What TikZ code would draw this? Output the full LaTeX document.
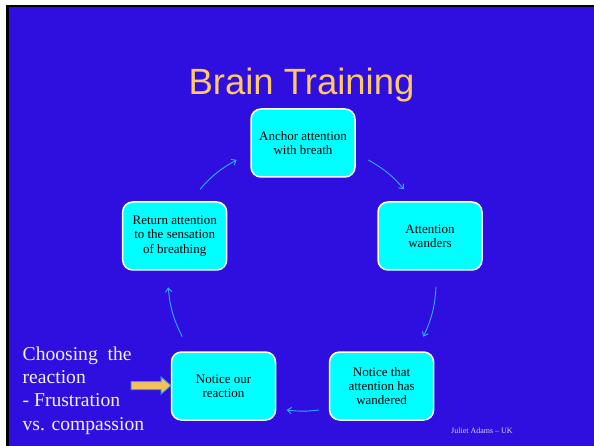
\documentclass[tikz,border=0pt]{standalone}
\usepackage{fontspec}
\setmainfont{Liberation Serif}
\newfontfamily\headfont{Liberation Sans}
\usetikzlibrary{arrows.meta}
\definecolor{slideblue}{HTML}{2E0FDF}
\definecolor{headgold}{HTML}{FFC864}
\definecolor{boxcyan}{HTML}{00FFFF}
\definecolor{cyclearrow}{HTML}{2FB0FF}
\definecolor{pointerfill}{HTML}{F6C15C}
\definecolor{pointerline}{HTML}{2AA6C8}
\definecolor{sidetext}{HTML}{F2F0FF}
\definecolor{footgray}{HTML}{D6D2F4}
\begin{document}
\begin{tikzpicture}[x=1pt,y=-1pt,
  stagebox/.style={draw=white, line width=1.5pt, fill=boxcyan, rounded corners=10pt,
    minimum width=104pt, minimum height=68pt, align=center, text=black,
    inner sep=2pt, font=\fontsize{13}{14.3}\selectfont},
  cycle/.style={draw=cyclearrow, line width=0.9pt,
    -{Straight Barb[length=4pt,width=6.5pt]}}]
  % page, slide background and the dark edge along its top and left
  \useasboundingbox (0,0) rectangle (594,446);
  \fill[white] (0,0) rectangle (594,446);
  \fill[slideblue] (8.5,7.3) rectangle (594,446);
  \draw[black, line width=2.6pt] (7.3,446) -- (7.3,6.2) -- (594,6.2);

  % heading
  \node[anchor=base, text=headgold, inner sep=0pt,
    font=\headfont\fontsize{36.5}{40}\selectfont] (heading) at (301.5,95) {Brain Training};

  % the five stages of the cycle
  \node[stagebox] (anchorbreath) at (303,143)   {Anchor attention\\with breath};
  \node[stagebox] (wanders)      at (430,236)   {Attention\\wanders};
  \node[stagebox] (noticethat)   at (381.6,386) {Notice that\\attention has\\wandered};
  \node[stagebox] (noticeour)    at (223.5,386) {Notice our\\reaction};
  \node[stagebox] (returnbreath) at (174.7,236) {Return attention\\to the sensation\\of breathing};

  % end points of the arcs between the stages
  \coordinate (a1s) at (200,189.3);   \coordinate (a1e) at (236.7,160);
  \coordinate (a2s) at (368.3,160);   \coordinate (a2e) at (404,189.3);
  \coordinate (a3s) at (436,286.7);   \coordinate (a3e) at (423.3,336.7);
  \coordinate (a4s) at (319,410);     \coordinate (a4e) at (286.7,410);
  \coordinate (a5s) at (182.3,336.7); \coordinate (a5e) at (168.3,287.3);

  \draw[cycle] (a1s) to[bend left=10] (a1e);
  \draw[cycle] (a2s) to[bend left=10] (a2e);
  \draw[cycle] (a3s) to[bend left=11] (a3e);
  \draw[cycle] (a4s) to[bend left=7]  (a4e);
  \draw[cycle] (a5s) to[bend left=11] (a5e);

  % side note (placed by the baseline of its last line) and its pointer
  \node[anchor=base west, text=sidetext, align=left, inner sep=0pt,
    font=\fontsize{19.6}{23.3}\selectfont] (sidenote) at (22.5,430)
    {Choosing\ \ the\\reaction\\- Frustration\\vs. compassion};
  \draw[fill=pointerfill, draw=pointerline, line width=1pt, line join=miter]
    (131,381.5) -- (161,381.5) -- (161,377) -- (171,385.5) -- (161,394)
    -- (161,389.5) -- (131,389.5) -- cycle;

  % footer
  \node[anchor=base west, text=footgray, inner sep=0pt,
    font=\fontsize{8}{9}\selectfont] (footer) at (451,433) {Juliet Adams -- UK};
\end{tikzpicture}
\end{document}
